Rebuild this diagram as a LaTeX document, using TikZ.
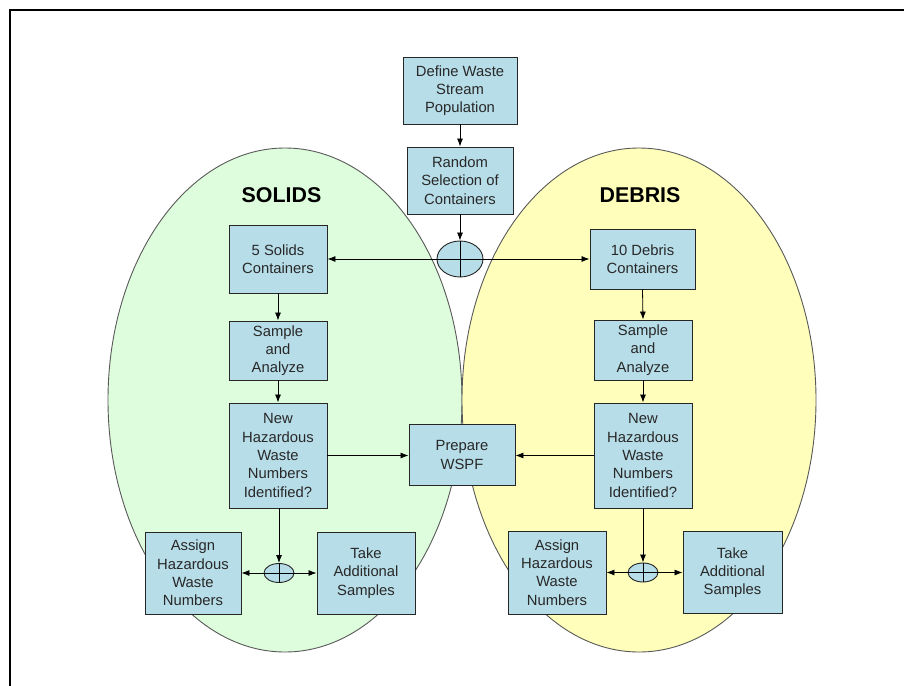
\documentclass[tikz,border=0pt]{standalone}
\usepackage{fontspec}
\setmainfont{Liberation Sans}
\usetikzlibrary{arrows.meta,shapes.geometric}
\definecolor{boxblue}{RGB}{183,221,232}
\definecolor{solidgreen}{RGB}{221,253,221}
\definecolor{debrisyellow}{RGB}{255,255,187}
\definecolor{txt}{RGB}{40,40,40}
\tikzset{
  flowbox/.style={draw=black!85, line width=0.9pt, fill=boxblue, align=center, inner sep=0pt,
    text=txt, font=\fontsize{14.8}{18.3}\selectfont},
  junc/.style={draw=black!85, line width=0.9pt, fill=boxblue, ellipse, inner sep=0pt},
  region/.style={draw=black!65, line width=0.9pt},
  title/.style={font=\bfseries\fontsize{21.4}{24}\selectfont, text=black},
  conn/.style={draw=black, line width=0.8pt, -{Latex[length=8pt,width=6pt]}},
  plain/.style={draw=black, line width=0.8pt}
}
\begin{document}
\begin{tikzpicture}[x=1pt,y=-1pt]
\useasboundingbox (0,0) rectangle (904,685);
\fill[white] (0,0) rectangle (904,685);
% frame
\draw[line width=2pt, black] (9.5,690) -- (9.5,10.5) -- (910,10.5);
% regions
\draw[region, fill=solidgreen] (285,400) ellipse [x radius=177, y radius=252];
\draw[region, fill=debrisyellow] (639,400) ellipse [x radius=177, y radius=252];
\node[title] (tsolids) at (281.5,195) {SOLIDS};
\node[title] (tdebris) at (640,195) {DEBRIS};
% nodes
\node[flowbox, minimum width=114pt, minimum height=67pt] (define) at (460,90.5) {Define Waste\\Stream\\Population};
\node[flowbox, minimum width=106pt, minimum height=67pt] (random) at (460,180.5) {Random\\Selection of\\Containers};
\node[junc, minimum width=46pt, minimum height=36pt] (j0) at (460,259) {};
\node[flowbox, minimum width=98pt, minimum height=68pt] (sc) at (278,259) {5 Solids\\Containers};
\node[flowbox, minimum width=105pt, minimum height=60pt] (dc) at (642.5,259) {10 Debris\\Containers};
\node[flowbox, minimum width=98pt, minimum height=59pt] (ss) at (278,350.5) {Sample\\and\\Analyze};
\node[flowbox, minimum width=98pt, minimum height=60pt] (ds) at (643,350) {Sample\\and\\Analyze};
\node[flowbox, minimum width=98pt, minimum height=105pt] (sn) at (278,455.5) {New\\Hazardous\\Waste\\Numbers\\Identified?};
\node[flowbox, minimum width=98pt, minimum height=105pt] (dn) at (643,455.5) {New\\Hazardous\\Waste\\Numbers\\Identified?};
\node[flowbox, minimum width=106pt, minimum height=61pt] (wspf) at (462,455) {Prepare\\WSPF};
\node[flowbox, minimum width=96pt, minimum height=82pt] (sa) at (193,573) {Assign\\Hazardous\\Waste\\Numbers};
\node[flowbox, minimum width=98pt, minimum height=82pt] (st) at (366,573) {Take\\Additional\\Samples};
\node[junc, minimum width=30pt, minimum height=19pt] (j1) at (279,573) {};
\node[flowbox, minimum width=98pt, minimum height=83pt] (da) at (557,572.5) {Assign\\Hazardous\\Waste\\Numbers};
\node[flowbox, minimum width=99pt, minimum height=82pt] (dt) at (732.5,572.5) {Take\\Additional\\Samples};
\node[junc, minimum width=30pt, minimum height=19pt] (j2) at (643,572.5) {};
% crosses in junctions
\foreach \j in {j0,j1,j2}{
  \draw[plain] (\j.north) -- (\j.south);
  \draw[plain] (\j.west) -- (\j.east);
}
% connectors
\draw[conn] (define.south) -- (random.north);
\draw[conn] (random.south) -- (j0.north);
\draw[conn] (j0.west) -- (j0.west -| sc.east);
\draw[conn] (j0.east) -- (j0.east -| dc.west);
\draw[conn] (sc.south) -- (ss.north);
\draw[conn] (ss.south) -- (sn.north);
\draw[conn] (dc.south) -- (ds.north);
\draw[conn] (ds.south) -- (dn.north);
\draw[conn] (sn.east) -- (sn.east -| wspf.west);
\draw[conn] (dn.west) -- (dn.west -| wspf.east);
\draw[conn] (sn.south -| j1.north) -- (j1.north);
\draw[conn] (dn.south -| j2.north) -- (j2.north);
\draw[conn] (j1.west) -- (j1.west -| sa.east);
\draw[conn] (j1.east) -- (j1.east -| st.west);
\draw[conn] (j2.west) -- (j2.west -| da.east);
\draw[conn] (j2.east) -- (j2.east -| dt.west);
\end{tikzpicture}
\end{document}
